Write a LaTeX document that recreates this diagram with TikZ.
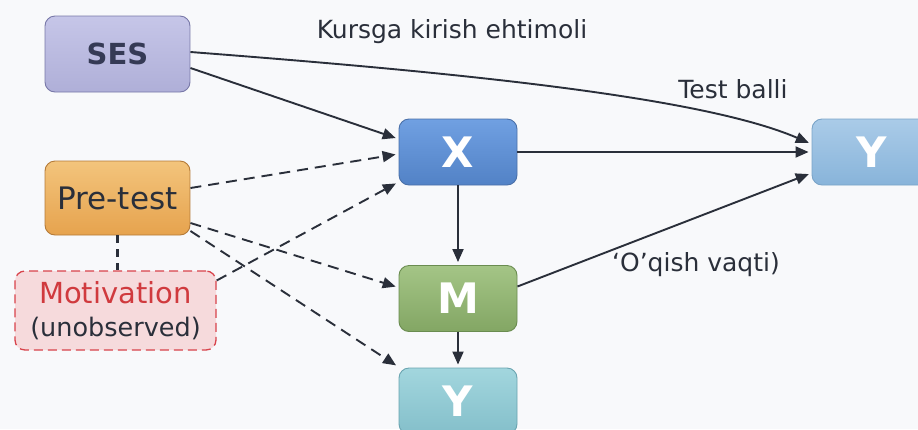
\documentclass[tikz,border=0pt]{standalone}
\usepackage{fontspec}
\setmainfont{DejaVu Sans}
\usetikzlibrary{arrows.meta}

\definecolor{ink}{HTML}{2A2F3A}
\definecolor{paper}{HTML}{F8F9FB}
\definecolor{sestop}{HTML}{C6C6E8}
\definecolor{sesbot}{HTML}{AFAFD8}
\definecolor{sesline}{HTML}{7878A8}
\definecolor{sestext}{HTML}{353A55}
\definecolor{pretop}{HTML}{F3C47C}
\definecolor{prebot}{HTML}{E6A34E}
\definecolor{preline}{HTML}{B47A38}
\definecolor{motfill}{HTML}{F6DADC}
\definecolor{motline}{HTML}{D8434B}
\definecolor{mottext}{HTML}{D03A3E}
\definecolor{xtop}{HTML}{70A0E2}
\definecolor{xbot}{HTML}{5282C6}
\definecolor{xline}{HTML}{4A70A8}
\definecolor{mtop}{HTML}{A4C586}
\definecolor{mbot}{HTML}{83A664}
\definecolor{mline}{HTML}{6A8C50}
\definecolor{ybtop}{HTML}{A2D6DE}
\definecolor{ybbot}{HTML}{84BFCA}
\definecolor{ybline}{HTML}{6AA4B0}
\definecolor{yrtop}{HTML}{AACBE8}
\definecolor{yrbot}{HTML}{88B4DA}
\definecolor{yrline}{HTML}{7AA4C8}

\begin{document}
\begin{tikzpicture} [x=1pt,y=-1pt,
  box/.style= {rectangle,rounded corners=10pt,draw,line width=0.9pt,inner sep=0,text=ink},
  var/.style= {box,minimum width=118pt,minimum height=66pt,text=white,font=\fontsize{42}{44}\selectfont\bfseries},
  arr/.style= {draw=ink,line width=1.9pt,-{Triangle[length=13pt,width=11pt]},shorten >=3pt},
  dsh/.style= {arr,dash pattern=on 11pt off 7pt},
  lbl/.style= {text=ink,font=\fontsize{25}{28}\selectfont}]
  \fill[paper] (0,0) rectangle (918,429);
  \useasboundingbox (0,0) rectangle (918,429);
  % Left column
  {\node[box,minimum width=145pt,minimum height=76pt,top color=sestop,bottom color=sesbot,draw=sesline,
     font=\fontsize{29}{31}\selectfont\bfseries,text=sestext] (ses) at (117.5,54) {SES};}
  {\node[box,minimum width=145pt,minimum height=74pt,top color=pretop,bottom color=prebot,draw=preline,
     font=\fontsize{31}{33}\selectfont] (pre) at (117.5,198) {Pre-test};}
  {\node[box,minimum width=201pt,minimum height=79pt,fill=motfill,draw=motline,line width=1.3pt,dash pattern=on 9pt off 5pt,
     align=center,font=\fontsize{25.5}{33}\selectfont] (mot) at (115.5,310.5)
     {\textcolor{mottext}{\fontsize{29}{33}\selectfont Motivation}\\(unobserved)};}
  % Middle column
  {\node[var,top color=xtop,bottom color=xbot,draw=xline] (X) at (458,152) {X};}
  {\node[var,top color=mtop,bottom color=mbot,draw=mline] (M) at (458,298.5) {M};}
  {\node[var,top color=ybtop,bottom color=ybbot,draw=ybline] (Yb) at (458,401) {Y};}
  % Right
  {\node[var,minimum width=120pt,top color=yrtop,bottom color=yrbot,draw=yrline] (Yr) at (872,152) {Y};}
  % Solid arrows
  \draw[arr] ([yshift=-14pt]ses.east) -- ([yshift=13pt]X.west);
  \draw[arr] ([yshift=2pt]ses.east) .. controls (450,72) and (700,96) .. ([yshift=8pt]Yr.west);
  \draw[arr] (X.east) -- (Yr.west);
  \draw[arr] (X.south) -- (M.north);
  \draw[arr] (M.south) -- (Yb.north);
  \draw[arr] ([yshift=12pt]M.east) -- ([yshift=-21pt]Yr.west);
  % Dashed arrows
  \draw[dsh] ([yshift=10pt]pre.east) -- ([yshift=-2pt]X.west);
  \draw[dsh] ([yshift=30pt]mot.east) -- ([yshift=-30pt]X.west);
  \draw[dsh] ([yshift=-25pt]pre.east) -- ([yshift=11pt]M.west);
  \draw[dsh] ([yshift=-33pt]pre.east) -- ([yshift=34pt]Yb.west);
  \draw[ink,line width=2.2pt,dash pattern=on 8pt off 6pt] (pre.south) -- (pre.south |- mot.north);
  % Labels
  \node[lbl] (kurs) at (452,32) {Kursga kirish ehtimoli};
  \node[lbl] (test) at (733,89) {Test balli};
  \node[lbl] (oqish) at (696,265) {‘O’qish vaqti)};
\end{tikzpicture}
\end{document}
